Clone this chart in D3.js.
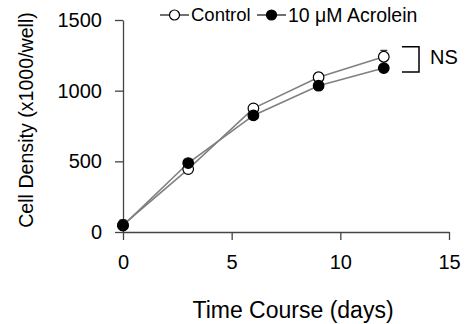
<!DOCTYPE html>
<html>
<head>
<meta charset="utf-8">
<script src="https://cdn.jsdelivr.net/npm/d3@7"></script>
<style>
  body { margin: 0; background: #fff; }
  text { font-family: "Liberation Sans", Arial, sans-serif; fill: #000; }
</style>
</head>
<body>
<div id="chart"></div>
<script>
// data
var days = [0, 3, 6, 9, 12];
var controlVals = [50, 445, 875, 1095, 1240];
var controlErr = [35, 15, 20, 30, 45];
var acroleinVals = [45, 488, 825, 1035, 1160];
var acroleinErr = [20, 20, 20, 20, 20];
var xTicks = [0, 5, 10, 15];
var yTicks = [0, 500, 1000, 1500];
var seriesNames = ['Control', '10 \u03bcM Acrolein'];

var width = 466, height = 324;

var svg = d3.select('#chart')
  .append('svg')
  .attr('width', width)
  .attr('height', height);

var xScale = d3.scaleLinear().domain([0, 15]).range([123, 449]);
var yScale = d3.scaleLinear().domain([0, 1500]).range([232, 20]);

var xAxis = d3.axisBottom(xScale).tickValues(xTicks).tickFormat(d3.format('d'))
  .tickSize(8).tickSizeOuter(0).tickPadding(15);
var yAxis = d3.axisLeft(yScale).tickValues(yTicks).tickFormat(d3.format('d'))
  .tickSize(8).tickSizeOuter(0).tickPadding(13);

var gx = svg.append('g')
  .attr('transform', 'translate(0,' + yScale(0) + ')')
  .call(xAxis);
var gy = svg.append('g')
  .attr('transform', 'translate(' + xScale(0) + ',0)')
  .call(yAxis);

[gx, gy].forEach(function(g) {
  g.selectAll('path, line').attr('stroke', '#444').attr('stroke-width', 1.3);
  g.selectAll('text')
    .style('font-family', '"Liberation Sans", Arial, sans-serif')
    .style('font-size', '20px')
    .attr('fill', '#000');
});
gx.selectAll('text').attr('dy', '0.71em');

// axis titles
svg.append('text')
  .attr('x', 293)
  .attr('y', 318)
  .attr('text-anchor', 'middle')
  .style('font-size', '23px')
  .text('Time Course (days)');

svg.append('text')
  .attr('transform', 'translate(33,120) rotate(-90)')
  .attr('text-anchor', 'middle')
  .style('font-size', '19.6px')
  .text('Cell Density (x1000/well)');

var series = [
  {vals: controlVals, err: controlErr, fill: '#fff'},
  {vals: acroleinVals, err: acroleinErr, fill: '#000'}
];

var line = d3.line()
  .x(function(d, i) { return xScale(days[i]); })
  .y(function(d) { return yScale(d); });

series.forEach(function(s) {
  svg.append('path')
    .attr('d', line(s.vals))
    .attr('fill', 'none')
    .attr('stroke', '#808080')
    .attr('stroke-width', 1.6);
});

series.forEach(function(s) {
  var g = svg.append('g');
  // upward error bars
  s.vals.forEach(function(v, i) {
    var x = xScale(days[i]);
    g.append('line')
      .attr('x1', x).attr('x2', x)
      .attr('y1', yScale(v)).attr('y2', yScale(v + s.err[i]))
      .attr('stroke', '#333').attr('stroke-width', 1.2);
    g.append('line')
      .attr('x1', x - 3.5).attr('x2', x + 3.5)
      .attr('y1', yScale(v + s.err[i])).attr('y2', yScale(v + s.err[i]))
      .attr('stroke', '#333').attr('stroke-width', 1.2);
  });
  g.selectAll('circle')
    .data(s.vals)
    .enter().append('circle')
    .attr('cx', function(d, i) { return xScale(days[i]); })
    .attr('cy', function(d) { return yScale(d); })
    .attr('r', 5.3)
    .attr('fill', s.fill)
    .attr('stroke', '#000')
    .attr('stroke-width', 1.2);
});

// legend
var legendX = [160, 257];
seriesNames.forEach(function(name, i) {
  var lg = svg.append('g').attr('transform', 'translate(' + legendX[i] + ',15)');
  lg.append('line')
    .attr('x1', 0).attr('x2', 29)
    .attr('y1', 0).attr('y2', 0)
    .attr('stroke', '#222').attr('stroke-width', 1.3);
  lg.append('circle')
    .attr('cx', 14.5).attr('cy', 0).attr('r', 5)
    .attr('fill', series[i].fill)
    .attr('stroke', '#000').attr('stroke-width', 1.2);
  lg.append('text')
    .attr('x', 31).attr('y', 0)
    .attr('dy', '0.35em')
    .style('font-size', i === 0 ? '18.5px' : '19.5px')
    .text(name);
});

// NS bracket
var bx = 419;
var yTop = yScale(controlVals[4]) - 10, yBot = yScale(acroleinVals[4]) + 4;
svg.append('path')
  .attr('d', 'M' + (bx - 17) + ',' + yTop + 'H' + bx + 'V' + yBot + 'H' + (bx - 17))
  .attr('fill', 'none')
  .attr('stroke', '#000')
  .attr('stroke-width', 1.5);
svg.append('text')
  .attr('x', 430).attr('y', 64)
  .style('font-size', '20px')
  .text('NS');
</script>
</body>
</html>
